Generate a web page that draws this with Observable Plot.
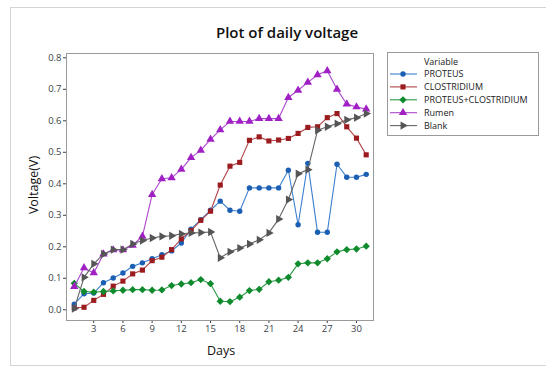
<!DOCTYPE html>
<html><head><meta charset="utf-8">
<script src="https://cdn.jsdelivr.net/npm/d3@7"></script>
<script src="https://cdn.jsdelivr.net/npm/@observablehq/plot@0.6"></script>
<style>
html,body{margin:0;padding:0;background:#fff;}
#wrap{position:relative;width:546px;height:370px;overflow:hidden;font-family:"Open Sans","Noto Sans",sans-serif;}
#border{position:absolute;left:10px;top:7px;width:545px;height:359px;border:1px solid #d4d4d4;box-sizing:border-box;}
#chart{position:absolute;left:0;top:0;}
#title{position:absolute;left:0;width:574px;top:22px;text-align:center;font-size:15px;font-weight:600;color:#111;}
#ylab{position:absolute;left:33px;top:185px;transform:translate(-50%,-50%) rotate(-90deg);font-size:12.5px;color:#111;white-space:nowrap;}
#xlab{position:absolute;left:221px;top:350px;transform:translate(-50%,-50%);font-size:12.5px;color:#111;}
#legend{position:absolute;left:387px;top:52px;}
</style></head>
<body>
<div id="wrap">
  <div id="border"></div>
  <div id="chart"></div>
  <div id="title">Plot of daily voltage</div>
  <div id="ylab">Voltage(V)</div>
  <div id="xlab">Days</div>
  <div id="legend"></div>
</div>
<script>
const days = [1,2,3,4,5,6,7,8,9,10,11,12,13,14,15,16,17,18,19,20,21,22,23,24,25,26,27,28,29,30,31];
const xTicks = [3,6,9,12,15,18,21,24,27,30];
const yTicks = [0,0.1,0.2,0.3,0.4,0.5,0.6,0.7,0.8];
const seriesNames = ["PROTEUS","CLOSTRIDIUM","PROTEUS+CLOSTRIDIUM","Rumen","Blank"];
const proteus = [0.018,0.051,0.053,0.086,0.101,0.117,0.138,0.149,0.162,0.175,0.187,0.212,0.256,0.286,0.316,0.345,0.316,0.313,0.387,0.387,0.387,0.387,0.443,0.270,0.465,0.246,0.246,0.462,0.421,0.421,0.430];
const clostridium = [0.006,0.008,0.030,0.049,0.075,0.091,0.114,0.126,0.156,0.167,0.191,0.225,0.251,0.284,0.313,0.396,0.456,0.468,0.538,0.549,0.536,0.539,0.544,0.560,0.579,0.581,0.610,0.623,0.581,0.545,0.492];
const proteusClostridium = [0.084,0.058,0.056,0.058,0.060,0.062,0.064,0.064,0.062,0.063,0.077,0.082,0.086,0.096,0.083,0.027,0.026,0.040,0.061,0.065,0.089,0.094,0.103,0.146,0.149,0.149,0.162,0.184,0.191,0.193,0.202];
const rumen = [0.074,0.133,0.117,0.177,0.190,0.190,0.205,0.233,0.366,0.416,0.419,0.446,0.483,0.506,0.541,0.571,0.598,0.598,0.598,0.607,0.607,0.607,0.674,0.697,0.722,0.746,0.759,0.700,0.653,0.644,0.637];
const blank = [0.004,0.103,0.146,0.177,0.191,0.191,0.209,0.220,0.228,0.233,0.235,0.241,0.244,0.245,0.247,0.165,0.184,0.196,0.209,0.222,0.244,0.288,0.350,0.432,0.445,0.570,0.581,0.591,0.603,0.610,0.623];

const triangleRight = {
  draw(ctx, size) {
    const a = Math.sqrt(size / (Math.sqrt(3) * 3));
    ctx.moveTo(2 * a, 0);
    ctx.lineTo(-a, -Math.sqrt(3) * a);
    ctx.lineTo(-a, Math.sqrt(3) * a);
    ctx.closePath();
  }
};

const series = [
  {name: seriesNames[0], values: proteus, color: "#1a5fb4", line: "#3b7fcf", symbol: d3.symbolCircle, r: 2.7},
  {name: seriesNames[1], values: clostridium, color: "#9c1b1f", line: "#b04448", symbol: d3.symbolSquare, r: 2.9},
  {name: seriesNames[2], values: proteusClostridium, color: "#0f8a2c", line: "#2c9a45", symbol: d3.symbolDiamond2, r: 3.3},
  {name: seriesNames[3], values: rumen, color: "#a020c4", line: "#ad46cf", symbol: d3.symbolTriangle, r: 3.1},
  {name: seriesNames[4], values: blank, color: "#555555", line: "#666666", symbol: triangleRight, r: 3.1}
];

const marks = [Plot.frame({stroke: "#9a9a9a"})];
for (const s of series) {
  const rows = days.map((d, i) => ({day: d, v: s.values[i]}));
  marks.push(Plot.line(rows, {x: "day", y: "v", stroke: s.line, strokeWidth: 1.1}));
  marks.push(Plot.dot(rows, {x: "day", y: "v", fill: s.color, stroke: "none", symbol: s.symbol, r: s.r}));
}

const chart = Plot.plot({
  width: 546, height: 370,
  marginLeft: 66, marginRight: 173, marginTop: 53, marginBottom: 50,
  style: {fontFamily: "'Open Sans','Noto Sans',sans-serif", fontSize: "9.5px", color: "#3a3f48", background: "transparent", overflow: "visible"},
  x: {domain: [0.2, 31.75], ticks: xTicks, tickSize: 3, tickPadding: 2, label: null},
  y: {domain: [-0.034, 0.8137], ticks: yTicks, tickSize: 3, tickPadding: 2, tickFormat: d3.format(".1f"), label: null},
  marks
});
document.getElementById("chart").appendChild(chart);

// Legend
const lw = 152, lh = 84;
const lsvg = d3.select("#legend").append("svg").attr("width", lw).attr("height", lh)
  .style("font-family", "'Open Sans','Noto Sans',sans-serif").style("overflow", "visible");
lsvg.append("rect").attr("x", 0.5).attr("y", 0.5).attr("width", lw - 1).attr("height", lh - 1)
  .attr("fill", "#fff").attr("stroke", "#9a9a9a");
lsvg.append("text").attr("x", 37).attr("y", 13).attr("font-size", 9).attr("fill", "#222").text("Variable");
series.forEach((s, i) => {
  const cy = 22 + i * 12.9;
  const g = lsvg.append("g");
  g.append("line").attr("x1", 3).attr("x2", 30).attr("y1", cy).attr("y2", cy).attr("stroke", s.line).attr("stroke-width", 1.1);
  g.append("path").attr("transform", `translate(16,${cy})`)
    .attr("d", d3.symbol().type(s.symbol).size(Math.PI * s.r * s.r)()).attr("fill", s.color);
  g.append("text").attr("x", 37).attr("y", cy + 3.2).attr("font-size", 9).attr("fill", "#222").text(s.name);
});
</script>
</body></html>
